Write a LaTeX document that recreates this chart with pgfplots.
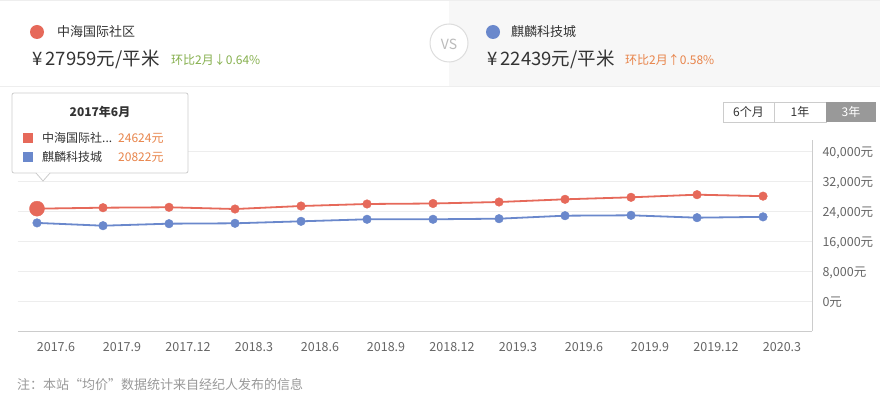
\documentclass[border=0pt]{standalone}
\usepackage{fontspec}
\setmainfont{Noto Sans CJK SC}
\usepackage{pgfplots}
\pgfplotsset{compat=1.18}
\definecolor{cred}{HTML}{E6695A}
\definecolor{cblue}{HTML}{6A88CC}
\definecolor{cgreen}{HTML}{86B04E}
\definecolor{corange}{HTML}{E8844A}
\definecolor{ctext}{HTML}{333333}
\definecolor{cgrey}{HTML}{666666}
\definecolor{cgrid}{HTML}{EDEDED}
\definecolor{caxis}{HTML}{CCCCCC}
\definecolor{cbg}{HTML}{F7F7F7}
\definecolor{cline}{HTML}{EEEEEE}
\definecolor{ccircle}{HTML}{DDDDDD}
\definecolor{cvs}{HTML}{BBBBBB}
\definecolor{cfoot}{HTML}{999999}
\newcommand{\fs}[1]{\fontsize{#1}{#1}\selectfont}
\begin{document}
\begin{tikzpicture}
\useasboundingbox (0pt,0pt) rectangle (880pt,-398pt);
\fill[white] (0pt,0pt) rectangle (880pt,-398pt);
\begin{scope}[x=1pt,y=-1pt]
  % header
  \fill[cbg] (449,1) rectangle (880,87);
  \draw[cline, line width=1pt] (0,1) -- (880,1);
  \draw[cline, line width=1pt] (0,87) -- (880,87);
  \draw[ccircle, fill=white, line width=1pt] (449,43) circle (19);
  \node[text=cvs] at (449,44) {\fs{14}VS};
  \fill[cred] (37,32) circle (7);
  \node[anchor=west, text=ctext, inner sep=0] at (57,32) {\fs{13}中海国际社区};
  \node[anchor=west, text=ctext, inner sep=0] at (32,59) {\fs{18.5}¥\hspace{3pt}27959元/平米};
  \node[anchor=west, text=cgreen, inner sep=0] at (171,60) {\fs{12}环比2月↓0.64\%};
  \fill[cblue] (493,32) circle (7);
  \node[anchor=west, text=ctext, inner sep=0] at (511,32) {\fs{13}麒麟科技城};
  \node[anchor=west, text=ctext, inner sep=0] at (487,59) {\fs{18.5}¥\hspace{3pt}22439元/平米};
  \node[anchor=west, text=corange, inner sep=0] at (625,60) {\fs{12}环比2月↑0.58\%};
  % buttons
  \draw[caxis, line width=0.8pt] (723,102) rectangle (774,122);
  \draw[caxis, line width=0.8pt] (774,102) rectangle (826,122);
  \fill[cfoot] (826,102) rectangle (876,122);
  \node[text=ctext] at (748.5,112) {\fs{12}6个月};
  \node[text=ctext] at (800,112) {\fs{12}1年};
  \node[text=white] at (851,112) {\fs{12}3年};
  % footer
  \node[anchor=west, text=cfoot, inner sep=0] at (17,385) {\fs{13}注：本站“均价”数据统计来自经纪人发布的信息};
\end{scope}
\begin{axis}[
  at={(18pt,-331pt)}, anchor=south west,
  scale only axis, width=794pt, height=191pt,
  xmin=-0.288, xmax=11.742, ymin=-8000, ymax=42933,
  clip=false,
  scaled y ticks=false,
  axis x line*=bottom, axis y line*=right,
  axis line style={caxis, line width=0.8pt, -},
  xtick={0,...,11},
  xticklabels={2017.6,2017.9,2017.12,2018.3,2018.6,2018.9,2018.12,2019.3,2019.6,2019.9,2019.12,2020.3},
  ytick={0,8000,16000,24000,32000,40000},
  yticklabels={0元,{8,000元},{16,000元},{24,000元},{32,000元},{40,000元}},
  tick style={draw=none},
  major tick length=0pt,
  ymajorgrids, grid style={cgrid, line width=0.8pt},
  x tick label style={font=\fs{12.5}, text=cgrey, anchor=center, xshift=19pt, yshift=-16pt},
  y tick label style={font=\fs{12.5}, text=cgrey, anchor=west, xshift=7pt, yshift=-1.5pt},
  tick label style={/pgf/number format/assume math mode=true},
]
\addplot[cred, line width=1.8pt, mark=*, mark size=4.3pt, mark options={solid, fill=cred, draw=cred, line width=0.4pt}] coordinates {
(0,24624) (1,24880) (2,24990) (3,24530) (4,25330) (5,25870) (6,26000) (7,26400) (8,27120) (9,27650) (10,28350) (11,27959)};
\addplot[cblue, line width=1.8pt, mark=*, mark size=4.3pt, mark options={solid, fill=cblue, draw=cblue, line width=0.4pt}] coordinates {
(0,20822) (1,20080) (2,20620) (3,20720) (4,21250) (5,21790) (6,21790) (7,21950) (8,22750) (9,22850) (10,22220) (11,22439)};
\addplot[only marks, mark=*, mark size=7.5pt, mark options={fill=cred, draw=cred, line width=0.4pt}] coordinates {(0,24624)};
\end{axis}
\begin{scope}[x=1pt,y=-1pt]
  % tooltip
  \draw[caxis, fill=white, line width=0.8pt, rounded corners=2pt] (12,93) rectangle (188,173);
  \fill[white] (36,172.5) -- (50,172.5) -- (43,181) -- cycle;
  \draw[caxis, line width=0.8pt] (36,173) -- (43,181) -- (50,173);
  \node[text=ctext] at (100,112) {\fs{12}\bfseries 2017年6月};
  \fill[cred] (23,133) rectangle (33,143);
  \fill[cblue] (23,152) rectangle (33,162);
  \node[anchor=west, text=ctext, inner sep=0] at (42,138) {\fs{12}中海国际社...};
  \node[anchor=west, text=ctext, inner sep=0] at (42,157) {\fs{12}麒麟科技城};
  \node[anchor=west, text=corange, inner sep=0] at (118,138) {\fs{12}24624元};
  \node[anchor=west, text=corange, inner sep=0] at (118,157) {\fs{12}20822元};
\end{scope}
\end{tikzpicture}
\end{document}
